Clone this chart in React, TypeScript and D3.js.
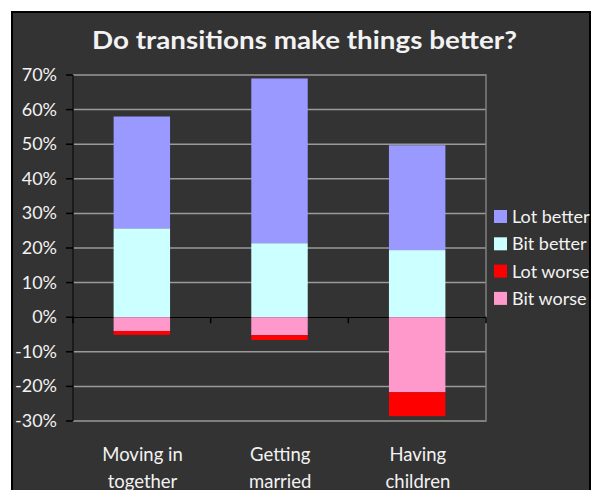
import React from "react";
import * as d3 from "d3";

const categories = ["Moving in together", "Getting married", "Having children"];
const categoryLines = [["Moving in", "together"], ["Getting", "married"], ["Having", "children"]];
const lotBetter = [32.3, 47.6, 30.3];
const bitBetter = [25.7, 21.4, 19.4];
const lotWorse = [1.1, 1.4, 6.9];
const bitWorse = [4.0, 5.2, 21.7];
const yTicks = [-30, -20, -10, 0, 10, 20, 30, 40, 50, 60, 70];
const seriesNames = ["Lot better", "Bit better", "Lot worse", "Bit worse"];
const seriesColors: Record<string, string> = {
  "Lot better": "#9999ff",
  "Bit better": "#ccffff",
  "Lot worse": "#ff0000",
  "Bit worse": "#ff99cc",
};

const W = 596;
const H = 490;
const FONT = "Lato, 'Open Sans', sans-serif";
const TEXT = "#f2f2f2";
const BG = "#333333";

export default function App() {
  const rows = categories.map((c, i) => ({
    cat: c,
    "Bit better": bitBetter[i],
    "Lot better": lotBetter[i],
    "Bit worse": -bitWorse[i],
    "Lot worse": -lotWorse[i],
  }));
  const stackKeys = ["Bit better", "Lot better", "Bit worse", "Lot worse"];
  const stacked = d3.stack<any>().keys(stackKeys).offset(d3.stackOffsetDiverging)(rows);

  const plotL = 73, plotR = 486, plotT = 75, plotB = 421;
  const x = d3.scaleBand<string>().domain(categories).range([plotL, plotR]).padding(0);
  const y = d3.scaleLinear().domain([-30, 70]).range([plotB, plotT]);
  const barW = x.bandwidth() * 0.41;
  const y0 = y(0);
  const boundaries = [...categories.map((c) => x(c)!), plotR];

  return (
    <svg width={W} height={H} style={{ position: "absolute", left: 0, top: 0, display: "block", background: "#fff" }}>
      <defs>
        <clipPath id="chartClip">
          <rect x={12} y={12} width={578} height={H} />
        </clipPath>
      </defs>
      <rect x={0} y={0} width={W} height={H} fill="#ffffff" />
      <rect x={12} y={12} width={578} height={H + 10} fill={BG} stroke="#000" strokeWidth={2} />
      <g clipPath="url(#chartClip)">
        <text x={304.5} y={49} textAnchor="middle" fill={TEXT} fontFamily={FONT} fontWeight="bold" fontSize={25}
          textLength={425} lengthAdjust="spacingAndGlyphs">
          Do transitions make things better?
        </text>
        {yTicks.map((t) => (
          <line key={"g" + t} x1={plotL} x2={plotR} y1={y(t)} y2={y(t)} stroke="#9a9a9a" strokeWidth={1.5} />
        ))}
        <rect x={plotL} y={plotT} width={plotR - plotL} height={plotB - plotT} fill="none" stroke="#808080" strokeWidth={1.5} />
        <line x1={plotL} x2={plotR} y1={y0} y2={y0} stroke="#000" strokeWidth={1.5} />
        {stacked.map((s) => (
          <g key={s.key} fill={seriesColors[s.key]}>
            {s.map((d, i) => {
              const cx = x(categories[i])! + x.bandwidth() / 2;
              const top = y(Math.max(d[0], d[1]));
              const bot = y(Math.min(d[0], d[1]));
              return <rect key={i} x={cx - barW / 2} y={top} width={barW} height={bot - top} />;
            })}
          </g>
        ))}
        <line x1={plotL} x2={plotL} y1={plotT} y2={plotB} stroke="#000" strokeWidth={1.5} />
        {yTicks.map((t) => (
          <g key={"t" + t}>
            <line x1={plotL - 7} x2={plotL} y1={y(t)} y2={y(t)} stroke="#000" strokeWidth={1.5} />
            <text x={57} y={y(t) + 6} textAnchor="end" fill={TEXT} fontFamily={FONT} fontSize={18}>
              {t + "%"}
            </text>
          </g>
        ))}
        {boundaries.map((b, i) => (
          <line key={"xb" + i} x1={b} x2={b} y1={y0} y2={y0 + 6} stroke="#000" strokeWidth={1.5} />
        ))}
        {categories.map((c, i) => (
          <text key={c} textAnchor="middle" fill={TEXT} fontFamily={FONT} fontSize={18.5}>
            {categoryLines[i].map((ln, j) => (
              <tspan key={j} x={x(c)! + x.bandwidth() / 2 + 0.7} y={461 + j * 26.5}>
                {ln}
              </tspan>
            ))}
          </text>
        ))}
        <line x1={591} x2={591} y1={201} y2={312} stroke="#000" strokeWidth={2} />
        {seriesNames.map((n, i) => (
          <g key={n} transform={`translate(494, ${210 + i * 27.3})`}>
            <rect x={0} y={0} width={13} height={13} fill={seriesColors[n]} />
            <text x={18} y={13} fill={TEXT} fontFamily={FONT} fontSize={18}>
              {n}
            </text>
          </g>
        ))}
      </g>
    </svg>
  );
}
